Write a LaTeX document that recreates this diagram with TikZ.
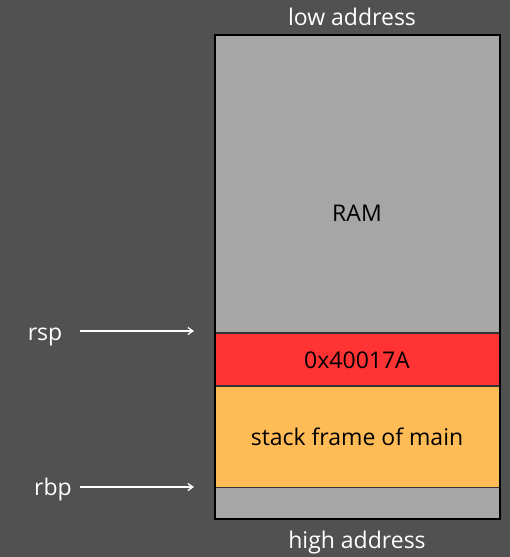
\documentclass[tikz,border=0pt]{standalone}
\usepackage{fontspec}
\setmainfont{Open Sans}
\usetikzlibrary{arrows.meta}
\definecolor{bg}{HTML}{515151}
\definecolor{ramgray}{HTML}{A6A6A6}
\definecolor{retred}{HTML}{FF3333}
\definecolor{frameorange}{HTML}{FFBB55}
\tikzset{
  cell/.style={draw=black!80, line width=1pt, anchor=north west, inner sep=0pt},
  celltext/.style={anchor=base, inner sep=0pt, font=\fontsize{23}{27}\selectfont, text=black},
  lbl/.style={anchor=base, text=white, font=\fontsize{23}{27}\selectfont, inner sep=0pt},
  ptr/.style={white, line width=1.3pt, -{Straight Barb[length=5pt,width=7pt]}}
}
\begin{document}
\begin{tikzpicture}[x=1pt,y=-1pt]
\fill[bg] (0,0) rectangle (510,557);
\useasboundingbox (0,0) rectangle (510,557);
\node[cell, fill=ramgray, minimum width=284pt, minimum height=297pt] (ram) at (215,35) {};
\node[cell, fill=retred, minimum width=284pt, minimum height=52pt] (ret) at (215,332.5) {};
\node[cell, fill=frameorange, minimum width=284pt, minimum height=101pt] (frame) at (215,385.5) {};
\node[cell, fill=ramgray, minimum width=284pt, minimum height=31pt] (rest) at (215,487) {};
\draw[black, line width=2pt] (ram.north west) rectangle (rest.south east);
\node[celltext] (ramtext) at (357,221) {RAM};
\node[celltext] (rettext) at (357,368) {0x40017A};
\node[celltext] (frametext) at (357,445) {stack frame of main};
\node[lbl] (low) at (352,25) {low address};
\node[lbl] (high) at (357,548) {high address};
\node[lbl] (rsp) at (45,340) {rsp};
\node[lbl] (rbp) at (53,495) {rbp};
\coordinate (rspend) at (194,331);
\coordinate (rbpend) at (194,487);
\draw[ptr] (80,331) -- (rspend);
\draw[ptr] (80,487) -- (rbpend);
\end{tikzpicture}
\end{document}
